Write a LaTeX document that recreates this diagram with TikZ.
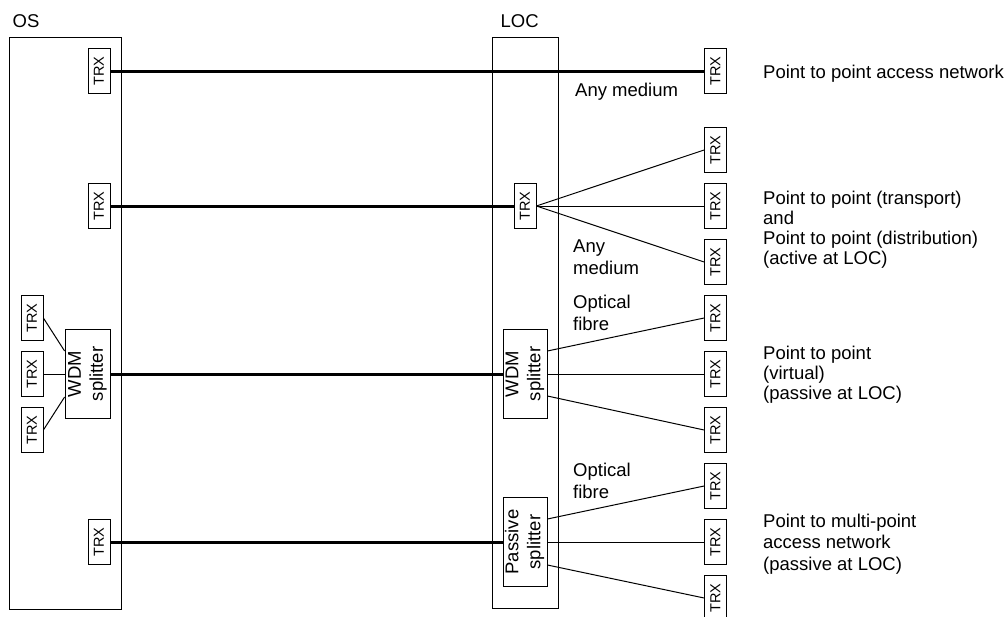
\documentclass[tikz,border=0pt]{standalone}
\usepackage{fontspec}
\setmainfont{Liberation Sans}
\usetikzlibrary{positioning}
\newcommand{\vtext}[1]{\rotatebox{90}{#1}}
\newcommand{\vtwo}[2]{\rotatebox{90}{\begin{tabular}{@{}c@{}}#1\\#2\end{tabular}}}
\tikzset{
  trx/.style={draw, line width=0.8pt, inner sep=0pt, minimum width=22pt, minimum height=45pt, font=\fontsize{14.5}{17}\selectfont},
  splitter/.style={draw, line width=0.8pt, inner sep=0pt, minimum width=44pt, minimum height=89pt},
  site/.style={draw, line width=0.8pt},
  trunk/.style={line width=3pt},
  branch/.style={line width=1pt},
  lbl/.style={anchor=north west, inner sep=0pt, align=left},
}

\begin{document}
\begin{tikzpicture}[x=1pt, y=-1pt, font=\fontsize{18.5}{22}\selectfont]
    \useasboundingbox (0,0) rectangle (1007,616);
    % sites
    \draw[site] (9.5,37) rectangle (121,609);
    \draw[site] (492,37) rectangle (558,608);
    \node[lbl] (osLbl) at (12.5,14.5) {OS};
    \node[lbl] (locLbl) at (500.5,14.5) {LOC};
    % OS side
    \node[trx] (osA) at (99,71) {\vtext{TRX}};
    \node[trx] (osB) at (99,206) {\vtext{TRX}};
    \node[trx] (osD) at (99,542) {\vtext{TRX}};
    \node[trx] (osC1) at (32,318) {\vtext{TRX}};
    \node[trx] (osC2) at (32,374) {\vtext{TRX}};
    \node[trx] (osC3) at (32,430) {\vtext{TRX}};
    \node[splitter, minimum width=45pt] (osWdm) at (87.5,374) {\vtwo{WDM}{splitter}};
    % LOC side
    \node[trx] (locB) at (525,206) {\vtext{TRX}};
    \node[splitter] (locWdm) at (525,374) {\vtwo{WDM}{splitter}};
    \node[splitter] (locPas) at (525,542) {\vtwo{Passive}{splitter}};
    % customer side
    \foreach \n/\y in {a/71, b1/150, b2/206, b3/262, c1/318, c2/374, c3/430, d1/486, d2/542, d3/598}
        \node[trx] (r\n) at (715.5,\y) {\vtext{TRX}};
    % trunks
    \draw[trunk] (osA) -- (ra);
    \draw[trunk] (osB) -- (locB);
    \draw[trunk] (osWdm) -- (locWdm);
    \draw[trunk] (osD) -- (locPas);
    % branches
    \draw[branch] (osC1.east) -- ([yshift=23pt]osWdm.west);
    \draw[branch] (osC2) -- (osWdm);
    \draw[branch] (osC3.east) -- ([yshift=-23pt]osWdm.west);
    \foreach \n in {b1,b2,b3}
        \draw[branch] (locB.east) -- (r\n.west);
    \draw[branch] ([yshift=23pt]locWdm.east) -- (rc1.west);
    \draw[branch] (locWdm) -- (rc2);
    \draw[branch] ([yshift=-22pt]locWdm.east) -- (rc3.west);
    \draw[branch] ([yshift=23pt]locPas.east) -- (rd1.west);
    \draw[branch] (locPas) -- (rd2);
    \draw[branch] ([yshift=-23pt]locPas.east) -- (rd3.west);
    % media
    \node[lbl] (medA) at (575,82.5) {Any medium};
    \node[lbl] (medB) at (573,239.5) {Any\\medium};
    \node[lbl] (fibA) at (573,294.5) {Optical\\fibre};
    \node[lbl] (fibB) at (573,462.5) {Optical\\fibre};
    % network types
    \node[lbl] (netA) at (763,64.5) {Point to point access network};
    \node[lbl, font=\fontsize{18.5}{20}\selectfont] (netB) at (763,191) {Point to point (transport)\\and\\Point to point (distribution)\\(active at LOC)};
    \node[lbl, font=\fontsize{18.5}{20}\selectfont] (netC) at (763,346) {Point to point\\(virtual)\\(passive at LOC)};
    \node[lbl, font=\fontsize{18.5}{21.5}\selectfont] (netD) at (763,513.5) {Point to multi-point\\access network\\(passive at LOC)};
\end{tikzpicture}
\end{document}
